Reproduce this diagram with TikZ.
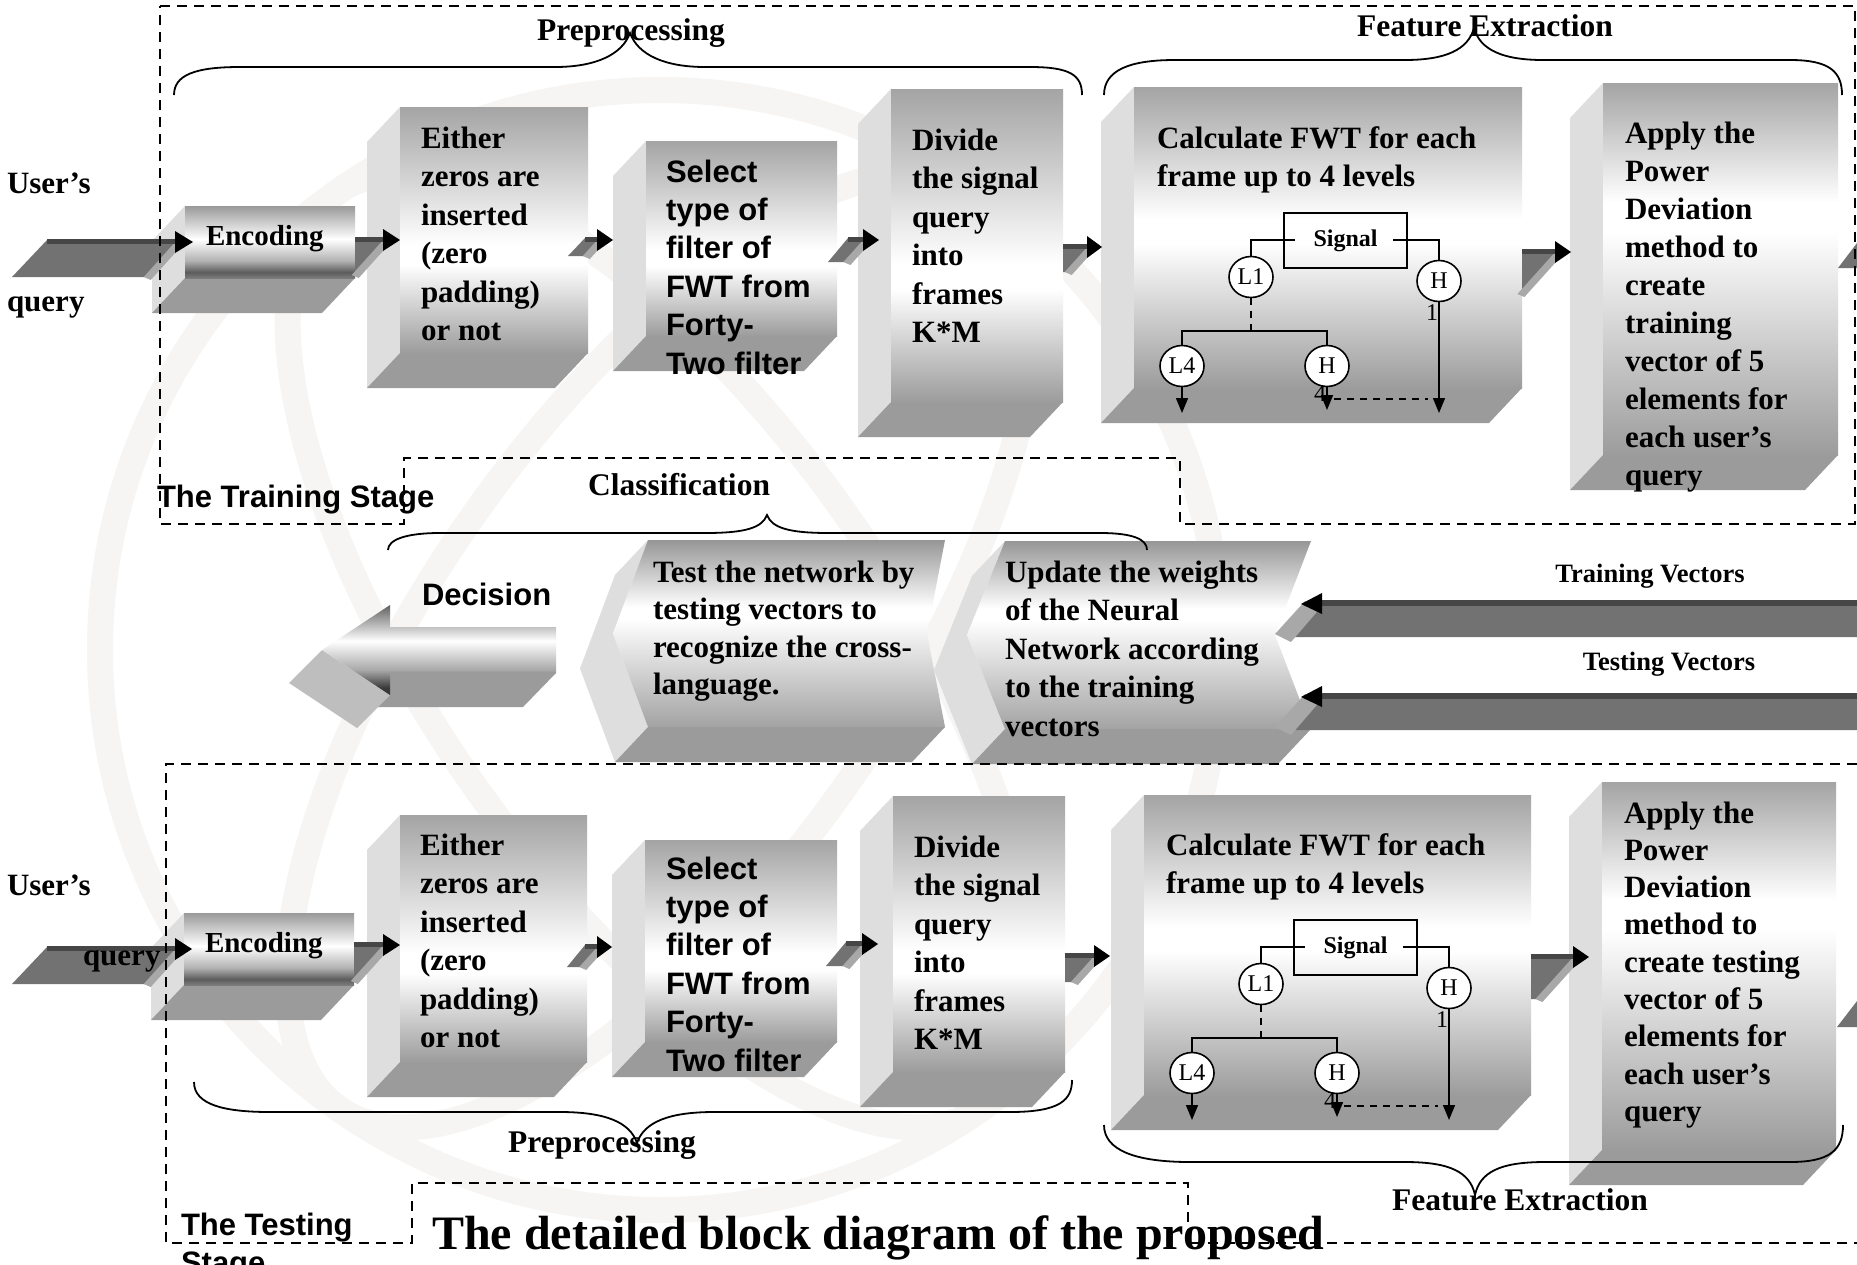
\documentclass[tikz,border=0pt]{standalone}
\usepackage{fontspec}
\setmainfont{Liberation Serif}
\newfontfamily\sansf{Liberation Sans}
\usetikzlibrary{arrows.meta,shapes.geometric}

\definecolor{sidegray}{HTML}{DEDEDE}
\definecolor{basegray}{HTML}{9B9B9B}
\definecolor{bandgray}{HTML}{727272}
\definecolor{bargray}{HTML}{464646}
\definecolor{slantgray}{HTML}{A8A8A8}
\definecolor{headside}{HTML}{BEBEBE}
\definecolor{markgray}{HTML}{F6F5F3}
\definecolor{ftop}{HTML}{A4A4A4}
\definecolor{fbot}{HTML}{9C9C9C}
\definecolor{eA}{HTML}{9A9A9A}
\definecolor{eB}{HTML}{B2B2B2}
\definecolor{eC}{HTML}{5C5C5C}
\definecolor{eD}{HTML}{7C7C7C}
\definecolor{cA}{HTML}{969696}
\definecolor{cB}{HTML}{A3A3A3}
\definecolor{dA}{HTML}{606060}
\definecolor{dB}{HTML}{8A8A8A}
\definecolor{dC}{HTML}{A9A9A9}
\definecolor{dD}{HTML}{3A3A3A}

% front faces: grey at top and bottom, a white band in between
\pgfdeclareverticalshading{faceLo}{100bp}{color(0bp)=(fbot); color(25bp)=(fbot); color(43bp)=(white); color(47bp)=(white); color(75bp)=(ftop); color(100bp)=(ftop)}
\pgfdeclareverticalshading{faceMid}{100bp}{color(0bp)=(fbot); color(25bp)=(fbot); color(49bp)=(white); color(53bp)=(white); color(75bp)=(ftop); color(100bp)=(ftop)}
\pgfdeclareverticalshading{faceHi}{100bp}{color(0bp)=(fbot); color(25bp)=(fbot); color(55bp)=(white); color(59bp)=(white); color(75bp)=(ftop); color(100bp)=(ftop)}
\pgfdeclareverticalshading{encface}{100bp}{color(0bp)=(eD); color(25bp)=(eD); color(29bp)=(eC); color(37bp)=(eB); color(52bp)=(white); color(75bp)=(eA); color(100bp)=(eA)}
\pgfdeclareverticalshading{chevface}{100bp}{color(0bp)=(cB); color(25bp)=(cB); color(54bp)=(white); color(57bp)=(white); color(75bp)=(cA); color(100bp)=(cA)}
\pgfdeclareverticalshading{decface}{100bp}{color(0bp)=(dD); color(25bp)=(dD); color(29bp)=(dD); color(39bp)=(dC); color(55bp)=(white); color(70bp)=(dB); color(75bp)=(dA); color(100bp)=(dA)}

\newcommand\mlines[1]{\begin{tabular}[t]{@{}l@{}}#1\end{tabular}}

% extruded block: left face, bottom face and shaded front
\newcommand\solidbox[6]{%
  \fill[sidegray] (#2,#3) -- (#2-33,#3+35) -- (#2-33,#5+35) -- (#2,#5) -- cycle;
  \fill[basegray] (#2,#5) -- (#4,#5) -- (#4-33,#5+35) -- (#2-33,#5+35) -- cycle;
  \node[shade, shading=#6, inner sep=0, outer sep=0, anchor=north west,
        minimum width={(#4-#2)*1pt}, minimum height={(#5-#3)*1pt}] (#1) at (#2,#3) {};}

% left-pointing chevron block
\newcommand\chevbox[7]{%
  \fill[sidegray] (#2,#3) -- (#2-33,#3+35) -- ({#2-#6-33},{(#3+#5)/2+35}) -- (#2-33,#5+35) -- (#2,#5) -- ({#2-#6},{(#3+#5)/2}) -- cycle;
  \fill[basegray] (#2,#5) -- (#4,#5) -- (#4-33,#5+35) -- (#2-33,#5+35) -- cycle;
  \shade[shading=chevface] (#2,#3) -- (#4,#3) -- ({#4-#7},{(#3+#5)/2}) -- (#4,#5) -- (#2,#5) -- ({#2-#6},{(#3+#5)/2}) -- cycle;
  \coordinate (#1) at (#2,#3);}

% flat grey connector with a black head
\newcommand\flatarrow[7]{%
  \fill[bandgray] (#2,#4) -- (#3,#4) -- (#3-0.9*#5,#4+#5) -- (#6,#4+#5) -- cycle;
  \fill[slantgray] (#3-1,#4) -- (#3+6,#4+3) -- (#3+6-0.9*#5,#4+3+#5) -- (#3-1-0.9*#5,#4+#5) -- cycle;
  \draw[bargray, line width=5pt] (#2,#4+1) -- (#3,#4+1);
  \coordinate (#1) at (#7,#4+2);
  \fill[black] (#3-3,#4-9) -- (#1) -- (#3-3,#4+13) -- cycle;}

% long vector arrows entering the classifier from the right
\newcommand\vecarrow[2]{%
  \fill[bandgray] (1321,#2+3) -- (1857,#2+3) -- (1857,#2+37) -- (1291,#2+37) -- cycle;
  \fill[slantgray] (1275,#2+34) -- (1305,#2+1) -- (1322,#2+6) -- (1291,#2+42) -- cycle;
  \draw[bargray, line width=6pt] (1318,#2+3) -- (1857,#2+3);
  \coordinate (#1) at (1301,#2+4);
  \fill[black] (1322,#2-7) -- (#1) -- (1322,#2+14) -- cycle;}

% wavelet decomposition tree
\newcommand\fwttree[1]{%
  \node[sigbox] (#1s) at (1345.5,240.5) {Signal};
  \node[leaf] (#1l1) at (1251,277) {L1};
  \node[leaf] (#1h1) at (1439,281) {H};
  \node[leaf] (#1l4) at (1182,366) {L4};
  \node[leaf] (#1h4) at (1327,366) {H};
  \node[lvlnum] (#1n1) at (1432,313) {1};
  \node[lvlnum] (#1n4) at (1320,394) {4};
  \draw[treeline] (1295,240) -- (1251,240) -- (#1l1.north);
  \draw[treeline] (1393,240) -- (1439,240) -- (#1h1.north);
  \draw[treeline, dash pattern=on 7pt off 6pt] (#1l1.south) -- (1251,331);
  \draw[treeline] (#1l4.north) -- (1182,331) -- (1327,331) -- (#1h4.north);
  \draw[treeline, downtip] (#1l4.south) -- (1182,413);
  \draw[treeline, downtip] (#1h4.south) -- (1327,410);
  \draw[treeline, downtip] (#1h1.south) -- (1439,413);
  \draw[treeline, dash pattern=on 7pt off 6pt] (1334,399) -- (1428,399);}

\tikzset{
  body/.style={font=\bfseries\fontsize{31}{38.5}\selectfont, anchor=base west, inner sep=0, outer sep=0},
  sansbody/.style={font=\sansf\bfseries\fontsize{31}{38.4}\selectfont, anchor=base west, inner sep=0, outer sep=0},
  heading/.style={font=\bfseries\fontsize{31.5}{36}\selectfont, anchor=base, inner sep=0, outer sep=0},
  veclabel/.style={font=\bfseries\fontsize{26.5}{30}\selectfont, anchor=base, inner sep=0, outer sep=0},
  sigbox/.style={draw, line width=1.6pt, minimum width=123pt, minimum height=55pt, inner sep=0,
                 font=\bfseries\fontsize{24}{26}\selectfont},
  leaf/.style={ellipse, draw, fill=white, line width=1.6pt, minimum width=44pt, minimum height=41pt,
               inner sep=0, font=\fontsize{24}{26}\selectfont},
  lvlnum/.style={inner sep=0, font=\fontsize{24}{26}\selectfont},
  treeline/.style={line width=1.6pt},
  downtip/.style={-{Triangle[width=12pt,length=15pt]}},
  stageline/.style={line width=1.8pt, dash pattern=on 10pt off 7pt},
  bracel/.style={line width=1.8pt}
}

\begin{document}
\begin{tikzpicture}[x=1pt,y=-1pt]
\useasboundingbox (0,0) rectangle (1857,1264);
\fill[white] (0,0) rectangle (1857,1264);

% faint globe mark in the background
\begin{scope}[markgray, line width=26pt]
  \draw (660,650) circle (560);
  \draw[rotate around={35:(660,650)}] (660,650) ellipse (230 and 560);
  \draw[rotate around={-35:(660,650)}] (660,650) ellipse (230 and 560);
\end{scope}

% ---------------- training stage blocks ----------------
\solidbox{enc}{185}{206}{355}{278}{encface}
\solidbox{pad}{400}{107}{588}{353}{faceLo}
\solidbox{sel}{646}{141}{837}{336}{faceLo}
\solidbox{div}{891}{89}{1063}{402}{faceLo}
\solidbox{fwt}{1134}{87}{1522}{388}{faceMid}
\solidbox{pow}{1603}{83}{1838}{455}{faceHi}

% ---------------- testing stage blocks ----------------
\solidbox{encT}{184}{913}{354}{985}{encface}
\solidbox{padT}{400}{815}{587}{1062}{faceLo}
\solidbox{selT}{645}{840}{837}{1042}{faceLo}
\solidbox{divT}{893}{796}{1065}{1072}{faceLo}
\solidbox{fwtT}{1144}{795}{1531}{1095}{faceMid}
\solidbox{powT}{1602}{782}{1836}{1150}{faceHi}

% ---------------- classification ----------------
\chevbox{upd}{1005}{541}{1311}{729}{38}{36}
\chevbox{tst}{648}{540}{945}{727}{35}{18}

% decision arrow
\fill[basegray] (390,673) -- (556,673) -- (523,707) -- (357,707) -- cycle;
\fill[headside] (322,650) -- (390,695) -- (357,728) -- (289,683) -- cycle;
\shade[shading=decface] (390,605) -- (390,627) -- (556,627) -- (556,673) -- (390,673) -- (390,695) -- (322,650) -- cycle;
\coordinate (dec) at (322,650);

% ---------------- connectors ----------------
\flatarrow{a0}{47}{178}{240}{37}{12}{193}
\flatarrow{a1}{355}{386}{238}{37}{355}{400}
\flatarrow{a2}{585}{600}{238}{18}{568}{613}
\flatarrow{a3}{848}{866}{238}{24}{828}{879}
\flatarrow{a4}{1063}{1090}{245}{27}{1063}{1102}
\flatarrow{a5}{1522}{1558}{250}{44}{1522}{1571}

\flatarrow{b0}{47}{178}{947}{37}{12}{192}
\flatarrow{b1}{354}{386}{943}{38}{354}{400}
\flatarrow{b2}{585}{600}{945}{22}{567}{612}
\flatarrow{b3}{846}{865}{942}{24}{826}{878}
\flatarrow{b4}{1065}{1097}{954}{28}{1065}{1110}
\flatarrow{b5}{1531}{1576}{955}{44}{1531}{1589}

% outgoing vectors leaving the right edge
\fill[bandgray] (1838,268) -- (1857,243) -- (1857,268) -- cycle;
\fill[bandgray] (1837,1027) -- (1857,1001) -- (1857,1027) -- cycle;

\vecarrow{trv}{600}
\vecarrow{tsv}{693}

% ---------------- wavelet trees ----------------
\fwttree{tr}
\begin{scope}[shift={(10,707)}]
  \fwttree{ts}
\end{scope}

% ---------------- block texts ----------------
\node[body, font=\bfseries\fontsize{29}{34}\selectfont] (encTx) at (206,245) {Encoding};
\node[body] (padTx) at (421,148) {\mlines{Either\\zeros are\\inserted\\(zero\\padding)\\or not}};
\node[sansbody] (selTx) at (666,182) {\mlines{Select\\type of\\filter of\\FWT from\\Forty-\\Two filter}};
\node[body] (divTx) at (912,150) {\mlines{Divide\\the signal\\query\\into\\frames\\K*M}};
\node[body] (fwtTx) at (1157,148) {\mlines{Calculate FWT for each\\frame up to 4 levels}};
\node[body, font=\bfseries\fontsize{31}{38}\selectfont] (powTx) at (1625,143) {\mlines{Apply the\\Power\\Deviation\\method to\\create\\training\\vector of 5\\elements for\\each user’s\\query}};

\node[body, font=\bfseries\fontsize{29}{34}\selectfont] (encTxT) at (205,952) {Encoding};
\node[body] (padTxT) at (420,855) {\mlines{Either\\zeros are\\inserted\\(zero\\padding)\\or not}};
\node[sansbody] (selTxT) at (666,879) {\mlines{Select\\type of\\filter of\\FWT from\\Forty-\\Two filter}};
\node[body] (divTxT) at (914,857) {\mlines{Divide\\the signal\\query\\into\\frames\\K*M}};
\node[body] (fwtTxT) at (1166,855) {\mlines{Calculate FWT for each\\frame up to 4 levels}};
\node[body, font=\bfseries\fontsize{31}{37.3}\selectfont] (powTxT) at (1624,823) {\mlines{Apply the\\Power\\Deviation\\method to\\create testing\\vector of 5\\elements for\\each user’s\\query}};

\node[body, font=\bfseries\fontsize{31}{37.5}\selectfont] (tstTx) at (653,582) {\mlines{Test the network by\\testing vectors to\\recognize the cross-\\language.}};
\node[body, font=\bfseries\fontsize{31}{38.5}\selectfont] (updTx) at (1005,582) {\mlines{Update the weights\\of the Neural\\Network according\\to the training\\vectors}};
\node[sansbody] (decTx) at (422,605) {Decision};

\node[veclabel] (trvTx) at (1650,582) {Training Vectors};
\node[veclabel] (tsvTx) at (1669,670) {Testing Vectors};

\node[body] (usr1) at (7,193) {User’s};
\node[body] (qry1) at (7,311) {query};
\node[body] (usr2) at (7,895) {User’s};
\node[body] (qry2) at (83,965) {query};

% ---------------- stage frames ----------------
\draw[stageline] (160,6) -- (1855,6) -- (1855,524) -- (1180,524) -- (1180,458) -- (404,458) -- (404,524) -- (160,524) -- cycle;
\draw[stageline] (1857,764) -- (166,764) -- (166,1243) -- (412,1243) -- (412,1183) -- (1188,1183) -- (1188,1243) -- (1857,1243);

\node[sansbody] (trStage) at (157,507) {The Training Stage};
\node[sansbody] (tsStage) at (181,1235) {\mlines{The Testing\\Stage}};

% ---------------- braces and their titles ----------------
\draw[bracel] (174,95) .. controls (174,75) and (195,67) .. (240,67) -- (555,67)
  .. controls (595,67) and (622,55) .. (630,33) .. controls (638,55) and (665,67) .. (705,67)
  -- (1030,67) .. controls (1070,67) and (1082,75) .. (1082,95);
\draw[bracel] (1104,95) .. controls (1104,70) and (1130,60) .. (1175,60) -- (1405,60)
  .. controls (1445,60) and (1468,50) .. (1474,28) .. controls (1480,50) and (1503,60) .. (1543,60)
  -- (1790,60) .. controls (1830,60) and (1842,72) .. (1842,95);
\draw[bracel] (388,550) .. controls (388,540) and (405,533) .. (440,533) -- (705,533)
  .. controls (745,533) and (762,528) .. (767,515) .. controls (772,528) and (789,533) .. (829,533)
  -- (1100,533) .. controls (1135,533) and (1147,540) .. (1147,550);
\draw[bracel] (194,1082) .. controls (194,1105) and (225,1112) .. (270,1112) -- (560,1112)
  .. controls (605,1112) and (630,1122) .. (637,1143) .. controls (644,1122) and (669,1112) .. (714,1112)
  -- (1010,1112) .. controls (1060,1112) and (1072,1100) .. (1072,1080);
\draw[bracel] (1104,1125) .. controls (1104,1150) and (1135,1162) .. (1190,1162) -- (1405,1162)
  .. controls (1450,1162) and (1470,1172) .. (1475,1195) .. controls (1480,1172) and (1500,1162) .. (1545,1162)
  -- (1790,1162) .. controls (1830,1162) and (1843,1150) .. (1843,1125);

\node[heading] (preTop) at (631,40) {Preprocessing};
\node[heading] (feTop) at (1485,36) {Feature Extraction};
\node[heading] (clsTop) at (679,495) {Classification};
\node[heading] (preBot) at (602,1152) {Preprocessing};
\node[heading] (feBot) at (1520,1210) {Feature Extraction};

\node[body, font=\bfseries\fontsize{48}{52}\selectfont] (caption) at (432,1249) {The detailed block diagram of the proposed};
\end{tikzpicture}
\end{document}
